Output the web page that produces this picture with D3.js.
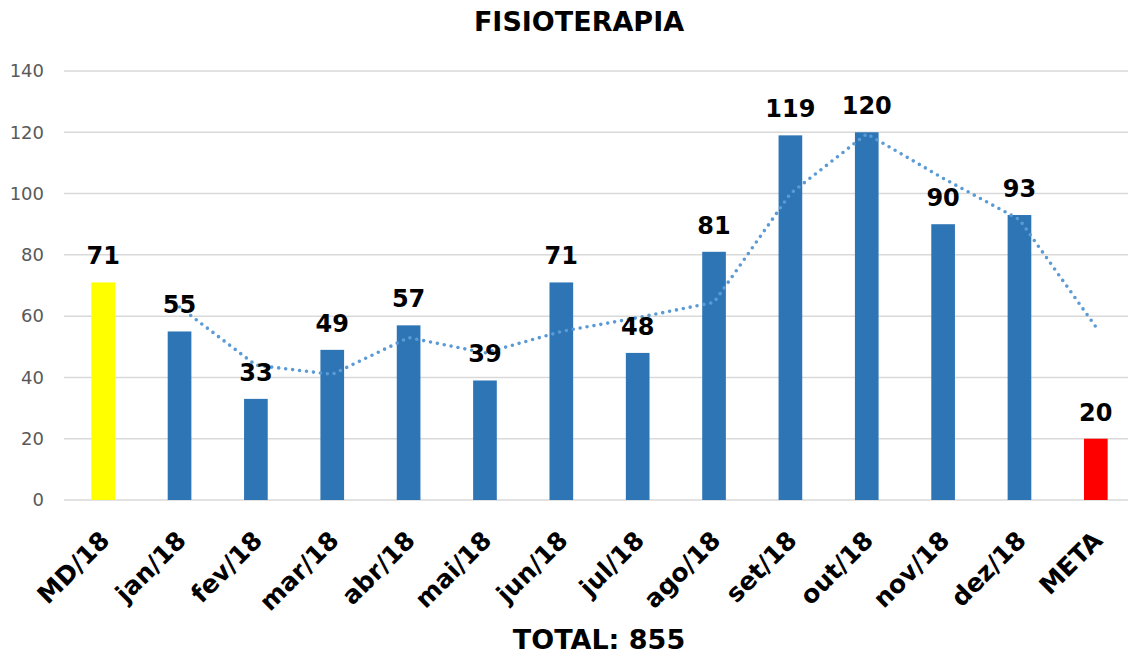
<!DOCTYPE html>
<html>
<head>
<meta charset="utf-8">
<script src="https://cdn.jsdelivr.net/npm/d3@7"></script>
<style>
  body { margin: 0; background: #fff; }
  svg { display: block; font-family: "DejaVu Sans", Verdana, sans-serif; }
</style>
</head>
<body>
<div class="graph-center"></div>
<script>
// data
let categories = ["MD/18", "jan/18", "fev/18", "mar/18", "abr/18", "mai/18", "jun/18",
                  "jul/18", "ago/18", "set/18", "out/18", "nov/18", "dez/18", "META"]
let values = [71, 55, 33, 49, 57, 39, 71, 48, 81, 119, 120, 90, 93, 20]
// dotted trend line (from jan/18 to META)
let trendCategories = ["jan/18", "fev/18", "mar/18", "abr/18", "mai/18", "jun/18",
                       "jul/18", "ago/18", "set/18", "out/18", "nov/18", "dez/18", "META"]
let trendValues = [63, 44, 41, 53, 48, 55, 59.5, 64.5, 100, 119.5, 105, 91.5, 56.5]
let yTicks = [0, 20, 40, 60, 80, 100, 120, 140]
let title = "FISIOTERAPIA"
let footer = "TOTAL: 855"

let svgWidth = 1128
let svgHeight = 654

let svg = d3.select('.graph-center')
    .append('svg')
    .attr('width', svgWidth)
    .attr('height', svgHeight)

// scales
let xScale = d3.scaleBand()
    .domain(categories)
    .range([65, 1134])
    .paddingInner(0.69)
    .paddingOuter(0.345)

let yScale = d3.scaleLinear()
    .domain([0, 140])
    .range([500, 71])

function barColor(d) {
    if (d == "MD/18") return '#FFFF00'
    if (d == "META") return '#FF0000'
    return '#2E75B6'
}

// gridlines
svg.append('g')
    .selectAll('line')
    .data(yTicks)
    .join('line')
    .attr('x1', 64)
    .attr('x2', svgWidth)
    .attr('y1', d => yScale(d))
    .attr('y2', d => yScale(d))
    .attr('stroke', '#D9D9D9')
    .attr('stroke-width', 1.5)

// y axis
let yAxis = d3.axisLeft(yScale)
    .tickValues(yTicks)
    .tickSize(0)
    .tickPadding(0)

let yG = svg.append('g')
    .attr('transform', 'translate(44,0)')
    .call(yAxis)
yG.select('.domain').remove()
yG.selectAll('text')
    .attr('fill', '#595959')
    .style('font-size', '18px')
    .style('font-family', '"DejaVu Sans", Verdana, sans-serif')

// bars
svg.append('g')
    .selectAll('rect')
    .data(categories)
    .join('rect')
    .attr('x', d => xScale(d))
    .attr('width', xScale.bandwidth())
    .attr('y', (d, i) => yScale(values[i]))
    .attr('height', (d, i) => yScale(0) - yScale(values[i]))
    .attr('fill', d => barColor(d))

// dotted trend line
let valueLine = d3.line()
    .x(d => xScale(d[0]) + xScale.bandwidth() / 2)
    .y(d => yScale(d[1]))

svg.append('path')
    .attr('d', valueLine(trendCategories.map((c, i) => [c, trendValues[i]])))
    .attr('fill', 'none')
    .attr('stroke', '#5B9BD5')
    .attr('stroke-width', 3.6)
    .attr('stroke-linecap', 'round')
    .attr('stroke-dasharray', '0,7')

// value labels
svg.append('g')
    .selectAll('text')
    .data(categories)
    .join('text')
    .attr('x', d => xScale(d) + xScale.bandwidth() / 2)
    .attr('y', (d, i) => yScale(values[i]) - 18)
    .attr('text-anchor', 'middle')
    .style('font-size', '24px')
    .style('font-weight', 'bold')
    .attr('fill', '#000')
    .text((d, i) => values[i])

// x axis labels
let xAxis = d3.axisBottom(xScale)
    .tickSize(0)
    .tickPadding(0)

let xG = svg.append('g')
    .attr('transform', 'translate(0,500)')
    .call(xAxis)
xG.select('.domain').remove()
xG.selectAll('text')
    .attr('text-anchor', 'end')
    .attr('dy', 0)
    .attr('transform', 'translate(8,42) rotate(-45)')
    .attr('fill', '#000')
    .style('font-size', '25px')
    .style('font-weight', 'bold')
    .style('font-family', '"DejaVu Sans", Verdana, sans-serif')

// title & footer
svg.append('text')
    .attr('x', 579)
    .attr('y', 31)
    .attr('text-anchor', 'middle')
    .style('font-size', '27px')
    .style('font-weight', 'bold')
    .text(title)

svg.append('text')
    .attr('x', 599)
    .attr('y', 649)
    .attr('text-anchor', 'middle')
    .style('font-size', '27px')
    .style('font-weight', 'bold')
    .text(footer)
</script>
</body>
</html>
